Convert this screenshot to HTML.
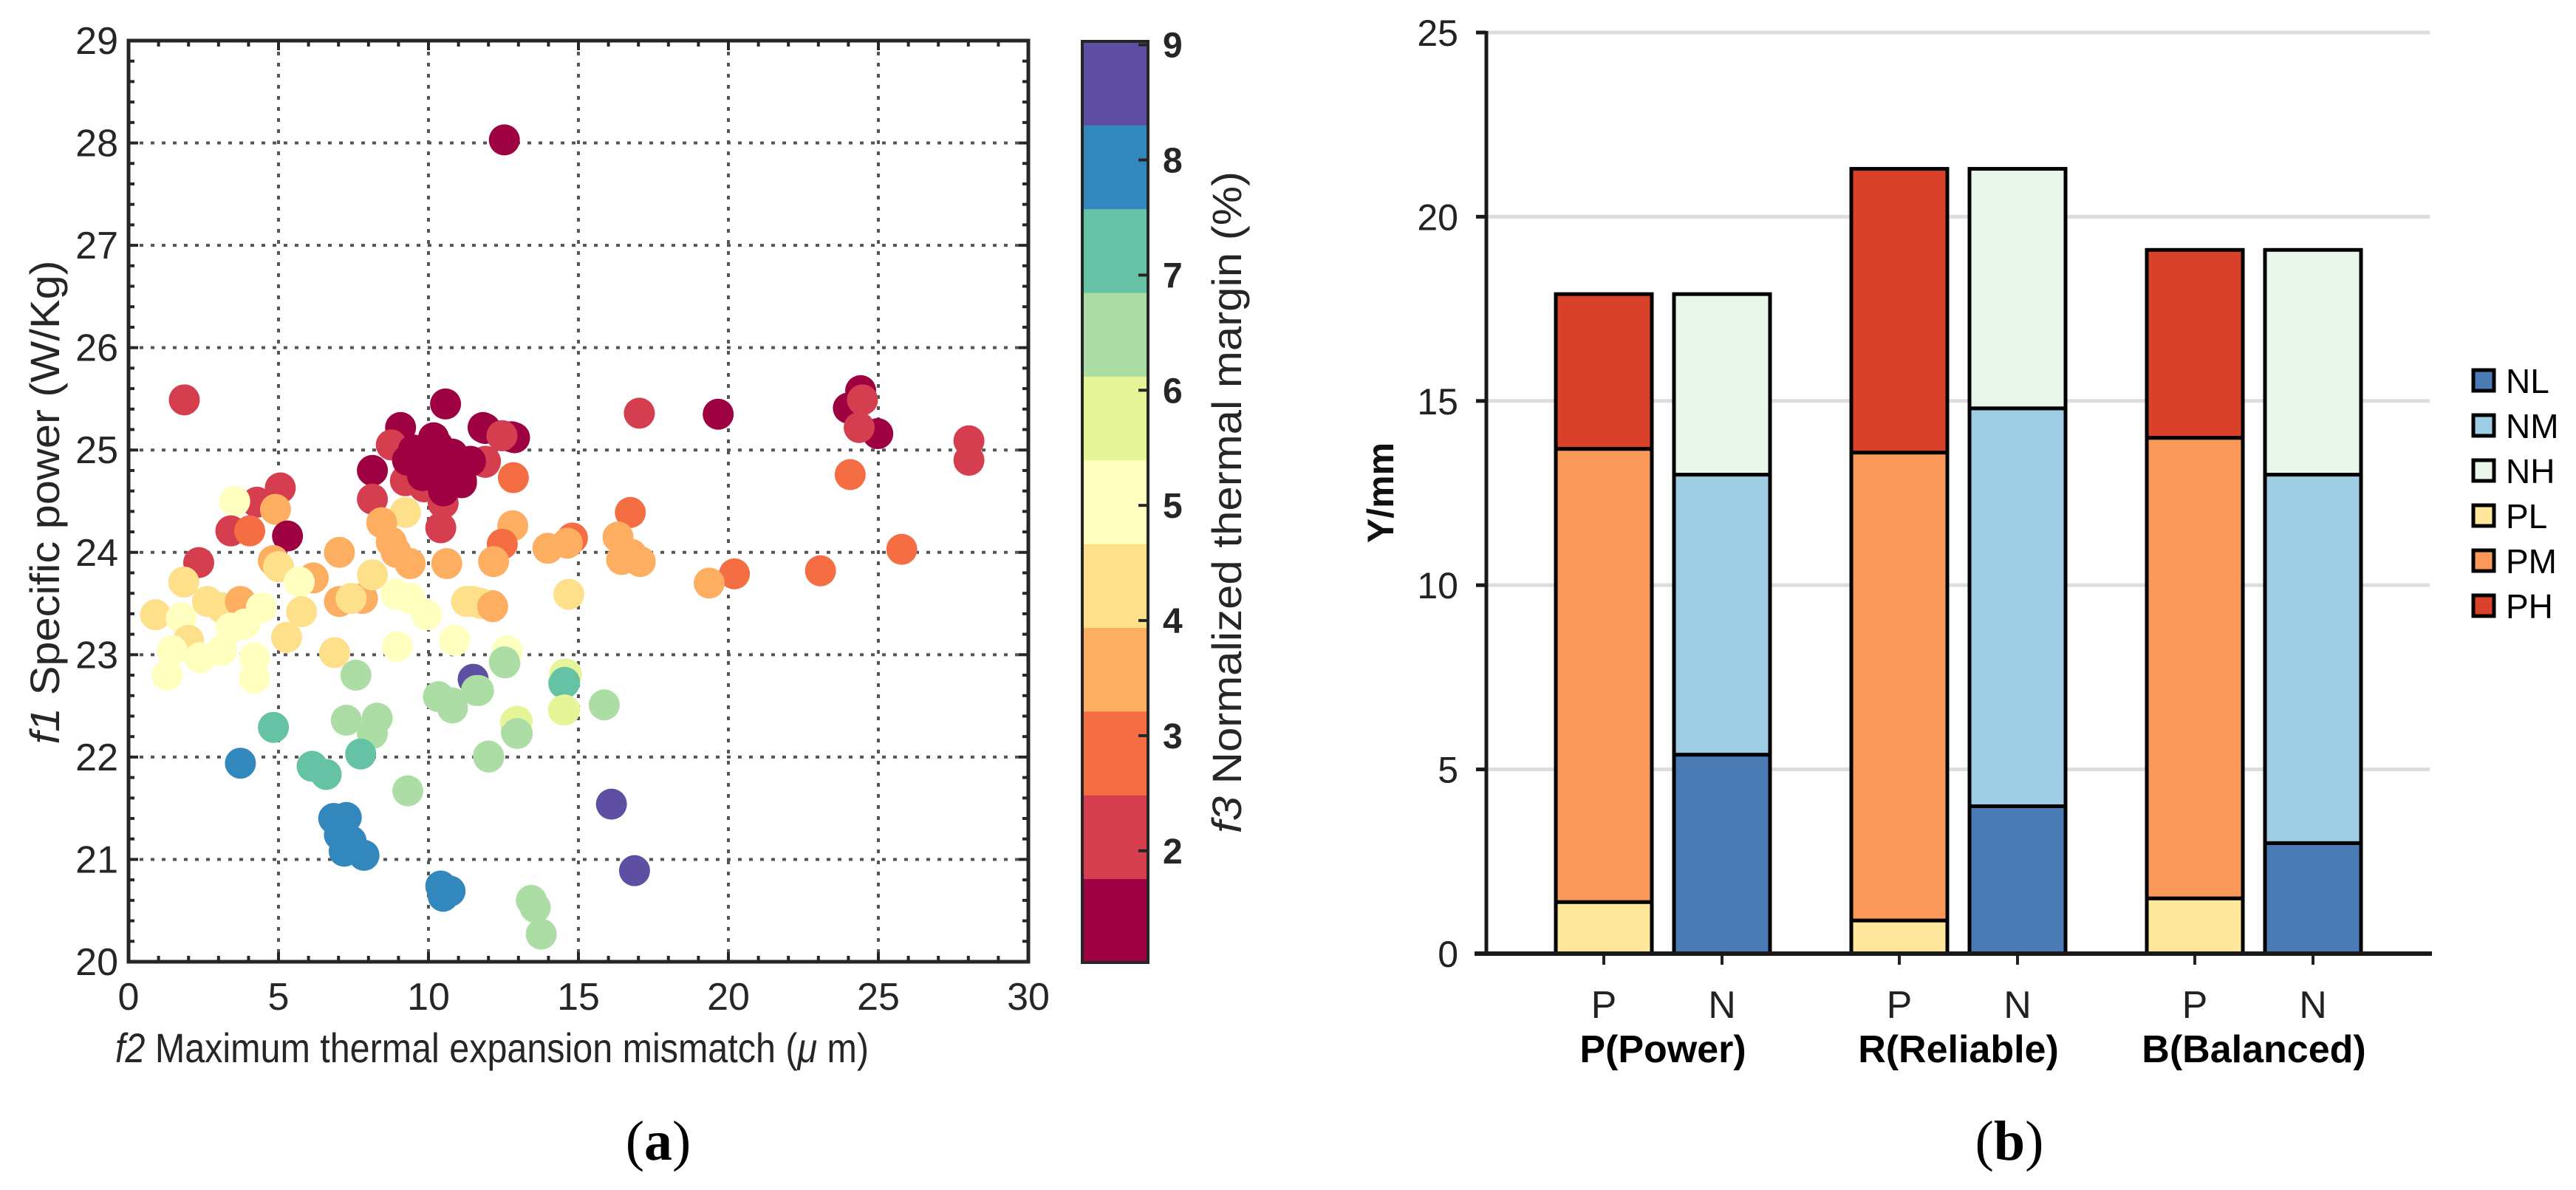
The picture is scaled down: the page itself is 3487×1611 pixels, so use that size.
<!DOCTYPE html>
<html><head><meta charset="utf-8"><style>
html,body{margin:0;padding:0;background:#fff;}
svg{display:block;font-family:"Liberation Sans","DejaVu Sans",sans-serif;}
</style></head><body>
<svg id="fig" width="3487" height="1611" viewBox="0 0 3487 1611" xmlns="http://www.w3.org/2000/svg">
<g id="scatter"></g>
<g id="cbar"></g>
<g id="bars"></g>
<text x="891" y="1570" font-family="Liberation Serif,serif" font-size="76" text-anchor="middle" fill="#000">(<tspan font-weight="bold">a</tspan>)</text>
<text x="2720" y="1570" font-family="Liberation Serif,serif" font-size="76" text-anchor="middle" fill="#000">(<tspan font-weight="bold">b</tspan>)</text>
</svg>
<script>
// ---------- Scatter data ----------
const sx = [12.53,1.86,10.57,17.03,19.66,20.2,19.36,16.73,16.32,16.77,16.44,17.06,14.8,14.63,13.98,14.68,15.86,14.51,14.6,14.5,12.83,12.81,12.46,12.17,12.12,11.48,10.86,12.63,12.55,11.49,11.6,10.78,12.9,12.93,12.0,11.89,12.87,12.46,11.89,10.98,
9.07,8.76,10.17,10.8,11.82,12.77,12.45,11.9,8.13,9.23,9.86,10.49,11.1,10.49,9.54,11.4,8.13,10.41,11.1,9.23,8.44,8.76,8.92,9.39,10.61,
5.06,4.28,3.54,4.9,3.41,4.04,5.3,2.34,4.83,5.0,7.03,6.16,5.69,1.84,0.9,1.76,2.63,3.1,3.73,4.43,3.41,3.88,2.0,1.45,2.39,3.1,4.2,1.29,4.2,5.27,5.77,7.03,7.8,8.13,7.42,8.92,9.39,9.94,6.87,8.96,10.88,11.27,11.75,12.14,12.6,
12.53,11.67,10.33,10.8,7.58,7.26,8.29,8.13,12.96,12.96,14.54,14.54,14.54,12.01,9.31,4.83,3.73,6.12,6.59,7.74,6.84,7.26,7.03,7.42,7.19,7.85,10.41,10.72,10.49,13.43,13.56,13.76,16.1,16.87,
24.41,24.0,24.47,24.98,24.36,28.02,28.02,24.06,25.78,23.07,
9.5,10.0,10.3,10.8,11.2,9.8,10.5,9.3];
const sy = [28.03,25.49,25.45,25.36,25.35,23.79,23.70,24.39,24.15,23.98,23.93,23.91,24.14,24.09,24.04,23.59,22.51,22.72,22.81,22.46,24.73,24.26,24.08,23.91,23.48,23.52,23.14,23.04,22.92,22.76,22.65,22.53,22.34,22.24,22.01,25.21,25.12,25.14,24.88,24.75,
25.22,25.05,25.12,24.96,25.22,25.13,25.14,24.89,24.8,24.7,24.64,24.48,24.7,24.8,24.89,24.89,24.52,24.24,24.68,24.39,24.29,24.1,24.0,23.89,23.89,
24.63,24.49,24.5,24.42,24.21,24.21,24.16,23.9,23.92,23.86,24.0,23.75,23.71,23.71,23.39,23.36,23.52,23.46,23.52,23.46,23.26,23.3,23.14,23.04,22.97,23.04,22.97,22.8,22.77,23.17,23.42,23.52,23.55,23.78,23.55,23.59,23.55,23.39,23.02,23.08,23.14,23.52,23.5,23.47,23.0,
22.93,22.65,22.59,22.48,22.8,22.36,22.38,22.23,22.35,22.23,22.81,22.73,22.46,22.0,21.67,22.29,21.94,21.91,21.83,22.03,21.4,21.41,21.24,21.18,21.08,21.04,20.74,20.69,20.64,20.6,20.53,20.27,21.54,20.89,
25.58,25.41,25.49,25.16,25.22,25.09,24.9,24.76,24.03,23.82,
25.0,24.9,25.05,24.75,24.85,24.75,24.6,24.9];
const sf3 = [1.4,2.1,1.4,2.1,1.4,2.8,3.6,2.8,3.6,3.6,3.6,3.6,2.8,3.6,3.6,4.3,6.5,7.2,5.7,5.7,2.8,3.6,2.8,3.6,3.6,4.3,5.0,5.0,6.5,8.7,6.5,6.5,5.7,6.5,6.5,1.4,1.4,2.1,2.1,1.4,
1.4,2.1,1.4,1.4,1.4,1.4,2.1,2.1,1.4,2.1,2.1,2.1,1.4,1.4,1.4,1.4,2.1,2.1,1.4,4.3,3.6,3.6,3.6,3.6,3.6,
2.1,2.1,5.0,3.6,2.1,2.8,1.4,2.1,3.6,4.3,3.6,3.6,5.0,4.3,4.3,5.0,4.3,4.3,3.6,5.0,5.0,5.0,4.3,5.0,5.0,5.0,5.0,5.0,5.0,4.3,4.3,3.6,3.6,4.3,4.3,5.0,5.0,5.0,4.3,5.0,5.0,4.3,4.3,3.6,5.0,
6.5,6.5,6.5,6.5,6.5,6.5,6.5,6.5,5.7,6.5,5.7,7.2,5.7,6.5,6.5,7.2,7.9,7.2,7.2,7.2,7.9,7.9,7.9,7.9,7.9,7.9,7.9,7.9,7.9,6.5,6.5,6.5,8.7,8.7,
1.4,1.4,2.1,1.4,2.1,2.1,2.1,2.8,2.8,2.8,
1.4,1.4,1.4,1.4,1.4,1.4,1.4,1.4];
const xTicks = [0,5,10,15,20,25,30];
const yTicks = [20,21,22,23,24,25,26,27,28,29];
const cbTicks = [2,3,4,5,6,7,8,9];
const cbColors = ["#9e0142","#d53e4f","#f46d43","#fdae61","#fee08b","#ffffbf","#e6f598","#abdda4","#66c2a5","#3288bd","#5e4fa2"];
const cbMin = 1.03, cbMax = 9.03;

// ---------- Bar data ----------
const groups = ["P(Power)","R(Reliable)","B(Balanced)"];
const PL = [1.4,0.9,1.5];
const PM = [12.3,12.7,12.5];
const PH = [4.2,7.7,5.1];
const NL = [5.4,4.0,3.0];
const NM = [7.6,10.8,10.0];
const NH = [4.9,6.5,6.1];
const barTicks = [0,5,10,15,20,25];
const legendNames = ["NL","NM","NH","PL","PM","PH"];
const legendColors = ["#4a7ab4","#9ecde3","#e8f5e9","#fee79a","#f99858","#d9412b"];

const NS="http://www.w3.org/2000/svg";
function mk(parent, tag, attrs){const e=document.createElementNS(NS,tag);for(const k in attrs)e.setAttribute(k,attrs[k]);parent.appendChild(e);return e;}

// ---------- Scatter ----------
const sg=document.getElementById('scatter');
const X0=174,X1=1392,Y0=55,Y1=1302;
const xs=v=>X0+(v-0)/30*(X1-X0);
const ys=v=>Y1-(v-20)/9*(Y1-Y0);
function band(v){let k=Math.floor((v-cbMin)/((cbMax-cbMin)/11));return cbColors[Math.max(0,Math.min(10,k))];}
for(const t of xTicks){ if(t===0||t===30) continue;
  const l=mk(sg,'line',{x1:xs(t),x2:xs(t),y1:Y0,y2:Y1,stroke:'#555','stroke-width':4,'stroke-dasharray':'5 10'});
  
  
}
for(const t of yTicks){ if(t===20||t===29) continue;
  const l=mk(sg,'line',{x1:X0,x2:X1,y1:ys(t),y2:ys(t),stroke:'#555','stroke-width':4,'stroke-dasharray':'5 10'});
  
  
}
for(let i=0;i<sx.length;i++){
  const c=mk(sg,'circle',{cx:xs(sx[i]),cy:ys(sy[i]),r:21,fill:band(sf3[i])});
  
  
}
for(let v=0;v<=30;v++){const maj=v%5===0,L=maj?13:8;
  mk(sg,'line',{x1:xs(v),x2:xs(v),y1:Y1,y2:Y1-L,stroke:'#262626','stroke-width':4});
  mk(sg,'line',{x1:xs(v),x2:xs(v),y1:Y0,y2:Y0+L,stroke:'#262626','stroke-width':4});}
for(let k=0;k<=45;k++){const v=20+k*0.2,maj=k%5===0,L=maj?13:8;
  mk(sg,'line',{x1:X0,x2:X0+L,y1:ys(v),y2:ys(v),stroke:'#262626','stroke-width':4});
  mk(sg,'line',{x1:X1,x2:X1-L,y1:ys(v),y2:ys(v),stroke:'#262626','stroke-width':4});}
const fr=mk(sg,'rect',{x:X0,y:Y0,width:X1-X0,height:Y1-Y0,fill:'none',stroke:'#262626','stroke-width':5});


for(const t of xTicks){
  const tx=mk(sg,'text',{x:xs(t),y:1367,'font-size':52,'text-anchor':'middle',fill:'#262626'});tx.textContent=t;
  
  
}
for(const t of yTicks){
  const tx=mk(sg,'text',{x:160,y:ys(t)+18,'font-size':52,'text-anchor':'end',fill:'#262626'});tx.textContent=t;
  
  
}
const xt=mk(sg,'text',{x:156,y:1438,'font-size':56,fill:'#262626',textLength:1020,lengthAdjust:'spacingAndGlyphs'});
xt.innerHTML='<tspan font-style="italic">f2</tspan> Maximum thermal expansion mismatch (<tspan font-style="italic">μ</tspan> m)';


const yt=mk(sg,'text',{x:0,y:0,'font-size':56,fill:'#262626','text-anchor':'middle',transform:'translate(80,680) rotate(-90)',textLength:655,lengthAdjust:'spacingAndGlyphs'});
yt.innerHTML='<tspan font-style="italic">f1</tspan> Specific power (W/Kg)';



// ---------- Colorbar ----------
const cg=document.getElementById('cbar');
const CX0=1465,CX1=1554,CY0=56,CY1=1303;
const cs=v=>CY1-(v-cbMin)/(cbMax-cbMin)*(CY1-CY0);
const bh=(CY1-CY0)/11;
for(let k=0;k<11;k++){
  const r=mk(cg,'rect',{x:CX0,y:CY1-(k+1)*bh,width:CX1-CX0,height:bh+0.5,fill:cbColors[k]});
  
  
}
mk(cg,'rect',{x:CX0,y:CY0,width:CX1-CX0,height:CY1-CY0,fill:'none',stroke:'#262626','stroke-width':4});
for(const t of cbTicks){
  mk(cg,'line',{x1:CX1,x2:CX1-13,y1:cs(t),y2:cs(t),stroke:'#262626','stroke-width':4});
  const tx=mk(cg,'text',{x:1574,y:cs(t)+17,'font-size':48,fill:'#262626','font-weight':'bold'});tx.textContent=t;
  
  
}
const ct=mk(cg,'text',{x:0,y:0,'font-size':56,fill:'#262626','text-anchor':'middle',transform:'translate(1680,680) rotate(-90)',textLength:896,lengthAdjust:'spacingAndGlyphs'});
ct.innerHTML='<tspan font-style="italic">f3</tspan> Normalized thermal margin (%)';



// ---------- Bars ----------
const bg=document.getElementById('bars');
const BY0=1291,BPU=49.88;
const yb=v=>BY0-v*BPU;
const AX=2012,GX0=2106,GP=400,BW=130,NOFF=160;
for(const t of barTicks){ if(t===0) continue;
  const l=mk(bg,'line',{x1:AX,x2:3289,y1:yb(t),y2:yb(t),stroke:'#dddddd','stroke-width':5});
  
  
}
function stack(x,vals,cols,name){let base=0;
  for(let j=0;j<vals.length;j++){
    const r=mk(bg,'rect',{x:x,y:yb(base+vals[j]),width:BW,height:vals[j]*BPU,fill:cols[j],stroke:'#000','stroke-width':5});
    
    
    base+=vals[j];}}
for(let g=0;g<groups.length;g++){
  const px=GX0+g*GP, nx=px+NOFF;
  stack(px,[PL[g],PM[g],PH[g]],[legendColors[3],legendColors[4],legendColors[5]],'bar-p-segment');
  stack(nx,[NL[g],NM[g],NH[g]],[legendColors[0],legendColors[1],legendColors[2]],'bar-n-segment');
  for(const [cx,lab] of [[px+BW/2,'P'],[nx+BW/2,'N']]){
    mk(bg,'line',{x1:cx,x2:cx,y1:BY0,y2:BY0+15,stroke:'#222','stroke-width':4});
    const tx=mk(bg,'text',{x:cx,y:1378,'font-size':52,'text-anchor':'middle',fill:'#222'});tx.textContent=lab;
    
    
  }
  const gl=mk(bg,'text',{x:px+(BW+NOFF)/2,y:1438,'font-size':52,'font-weight':'bold','text-anchor':'middle',fill:'#000'});gl.textContent=groups[g];
  
  
}
const base=mk(bg,'line',{x1:1996,x2:3292,y1:BY0,y2:BY0,stroke:'#1a1a1a','stroke-width':6});


const yax=mk(bg,'line',{x1:AX,x2:AX,y1:yb(25)-2,y2:BY0,stroke:'#1a1a1a','stroke-width':5});


for(const t of barTicks){
  mk(bg,'line',{x1:AX-14,x2:AX,y1:yb(t),y2:yb(t),stroke:'#1a1a1a','stroke-width':5});
  const tx=mk(bg,'text',{x:1974,y:yb(t)+18,'font-size':50,'text-anchor':'end',fill:'#222'});tx.textContent=t;
  
  
}
const byt=mk(bg,'text',{x:0,y:0,'font-size':50,'font-weight':'bold','text-anchor':'middle',fill:'#111',transform:'translate(1886,667) rotate(-90)'});
byt.textContent='Y/mm';


for(let i=0;i<legendNames.length;i++){
  const cy=515+i*61;
  const r=mk(bg,'rect',{x:3348,y:cy-14,width:28,height:28,fill:legendColors[i],stroke:'#000','stroke-width':5});
  
  
  const tx=mk(bg,'text',{x:3392,y:cy+17,'font-size':46,fill:'#000'});tx.textContent=legendNames[i];
  
  
}
</script>
</body></html>
